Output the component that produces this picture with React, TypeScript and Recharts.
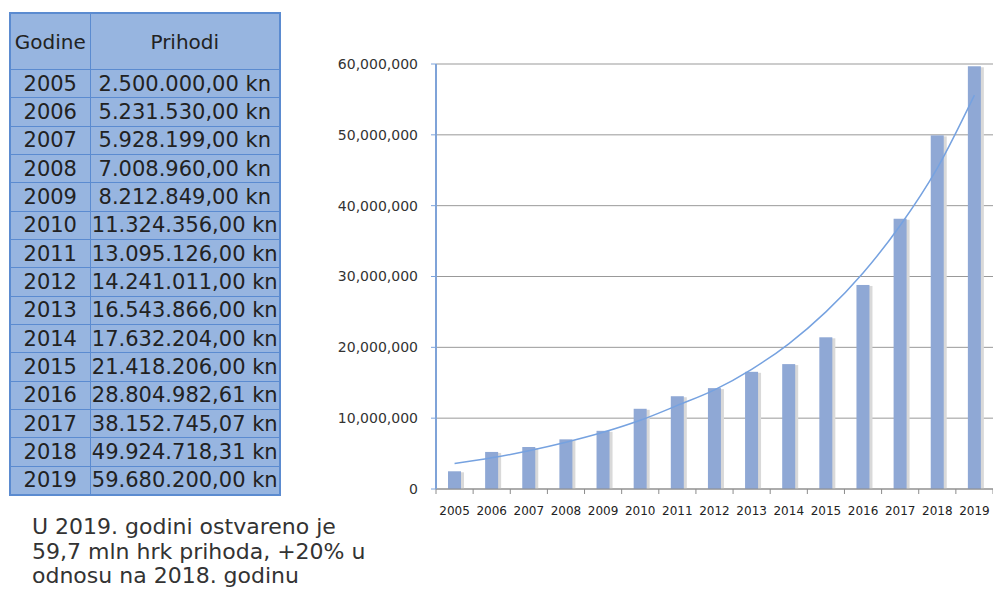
import React from 'react'
import { ComposedChart, Bar, Line, XAxis, YAxis, CartesianGrid } from 'recharts'

// godine i prihodi (kn)
const years = ['2005', '2006', '2007', '2008', '2009', '2010', '2011', '2012', '2013', '2014', '2015', '2016', '2017', '2018', '2019']
const revenue = [
  2500000, 5231530, 5928199, 7008960, 8212849, 11324356, 13095126, 14241011,
  16543866, 17632204, 21418206, 28804982.61, 38152745.07, 49924718.31, 59680200,
]
const revenueLabels = [
  '2.500.000,00 kn', '5.231.530,00 kn', '5.928.199,00 kn', '7.008.960,00 kn', '8.212.849,00 kn',
  '11.324.356,00 kn', '13.095.126,00 kn', '14.241.011,00 kn', '16.543.866,00 kn', '17.632.204,00 kn',
  '21.418.206,00 kn', '28.804.982,61 kn', '38.152.745,07 kn', '49.924.718,31 kn', '59.680.200,00 kn',
]
// trend line
const trend = [
  3600000, 4400000, 5400000, 6600000, 8000000, 9700000, 11800000, 14000000,
  16900000, 20500000, 25000000, 30500000, 37200000, 45300000, 55600000,
]
const yTicks = [0, 10000000, 20000000, 30000000, 40000000, 50000000, 60000000]

const data = years.map((year, i) => ({ year, revenue: revenue[i], trend: trend[i] }))

const font = '"DejaVu Sans", Verdana, sans-serif'

function BarWithShadow(props: any) {
  const { x, y, width, height, fill } = props
  if (!height || height <= 0) return null
  return (
    <g>
      <rect x={x + 3} y={y + 1} width={width} height={height - 1} fill="#d9d9d9" />
      <rect x={x} y={y} width={width} height={height} fill={fill} />
    </g>
  )
}

function YearTick(props: any) {
  const { x, y, payload, index, visibleTicksCount } = props
  const off = payload.offset ?? 0
  const last = index === visibleTicksCount - 1
  return (
    <g>
      <line x1={x - off} x2={x - off} y1={y - 8} y2={y - 3} stroke="#8c8c8c" />
      {last && <line x1={x + off} x2={x + off} y1={y - 8} y2={y - 3} stroke="#8c8c8c" />}
      <text x={x} y={y + 18} textAnchor="middle" fontSize={12} fill="#222" fontFamily={font}>
        {payload.value}
      </text>
    </g>
  )
}

const cell: React.CSSProperties = {
  border: '1px solid #5b8bd0',
  padding: 0,
  height: 27.35,
  textAlign: 'center',
  whiteSpace: 'nowrap',
}

export default function App() {
  return (
    <div style={{ position: 'absolute', left: 0, top: 0, width: 993, height: 590, background: '#fff', fontFamily: font }}>
      <table
        style={{
          position: 'absolute', left: 9, top: 12, borderCollapse: 'collapse', background: '#97b5e0',
          color: '#222', fontSize: 21, border: '2px solid #5b8bd0', tableLayout: 'fixed', width: 270,
        }}
      >
        <colgroup>
          <col style={{ width: 80 }} />
          <col style={{ width: 190 }} />
        </colgroup>
        <thead>
          <tr>
            <th style={{ ...cell, height: 55, fontWeight: 'normal', fontSize: 20 }}>Godine</th>
            <th style={{ ...cell, height: 55, fontWeight: 'normal', fontSize: 20 }}>Prihodi</th>
          </tr>
        </thead>
        <tbody>
          {years.map((y, i) => (
            <tr key={y}>
              <td style={cell}>{y}</td>
              <td style={cell}>{revenueLabels[i]}</td>
            </tr>
          ))}
        </tbody>
      </table>

      <div style={{ position: 'absolute', left: 32, top: 515, fontSize: 22, lineHeight: '24.5px', color: '#333' }}>
        U 2019. godini ostvareno je<br />
        59,7 mln hrk prihoda, +20% u<br />
        odnosu na 2018. godinu
      </div>

      <div style={{ position: 'absolute', left: 330, top: 40 }}>
        <ComposedChart width={663} height={486} data={data} margin={{ top: 24, right: 0, bottom: 0, left: 0 }} barSize={13}>
          <CartesianGrid vertical={false} stroke="#999" />
          <XAxis
            dataKey="year"
            axisLine={{ stroke: '#8c8c8c' }}
            tickLine={false}
            interval={0}
            height={37}
            tick={<YearTick />}
          />
          <YAxis
            domain={[0, 60000000]}
            ticks={yTicks}
            width={106}
            tickSize={5}
            tickMargin={13}
            axisLine={{ stroke: '#7fa3d8', strokeWidth: 2 }}
            tickLine={{ stroke: '#7fa3d8' }}
            tick={{ fontSize: 14, fill: '#333', fontFamily: font }}
            tickFormatter={(v: number) => v.toLocaleString('en-US')}
          />
          <Bar dataKey="revenue" fill="#8fa8d5" shape={<BarWithShadow />} isAnimationActive={false} />
          <Line dataKey="trend" type="monotone" stroke="#76a2e0" strokeWidth={1.5} dot={false} isAnimationActive={false} />
        </ComposedChart>
      </div>
    </div>
  )
}
